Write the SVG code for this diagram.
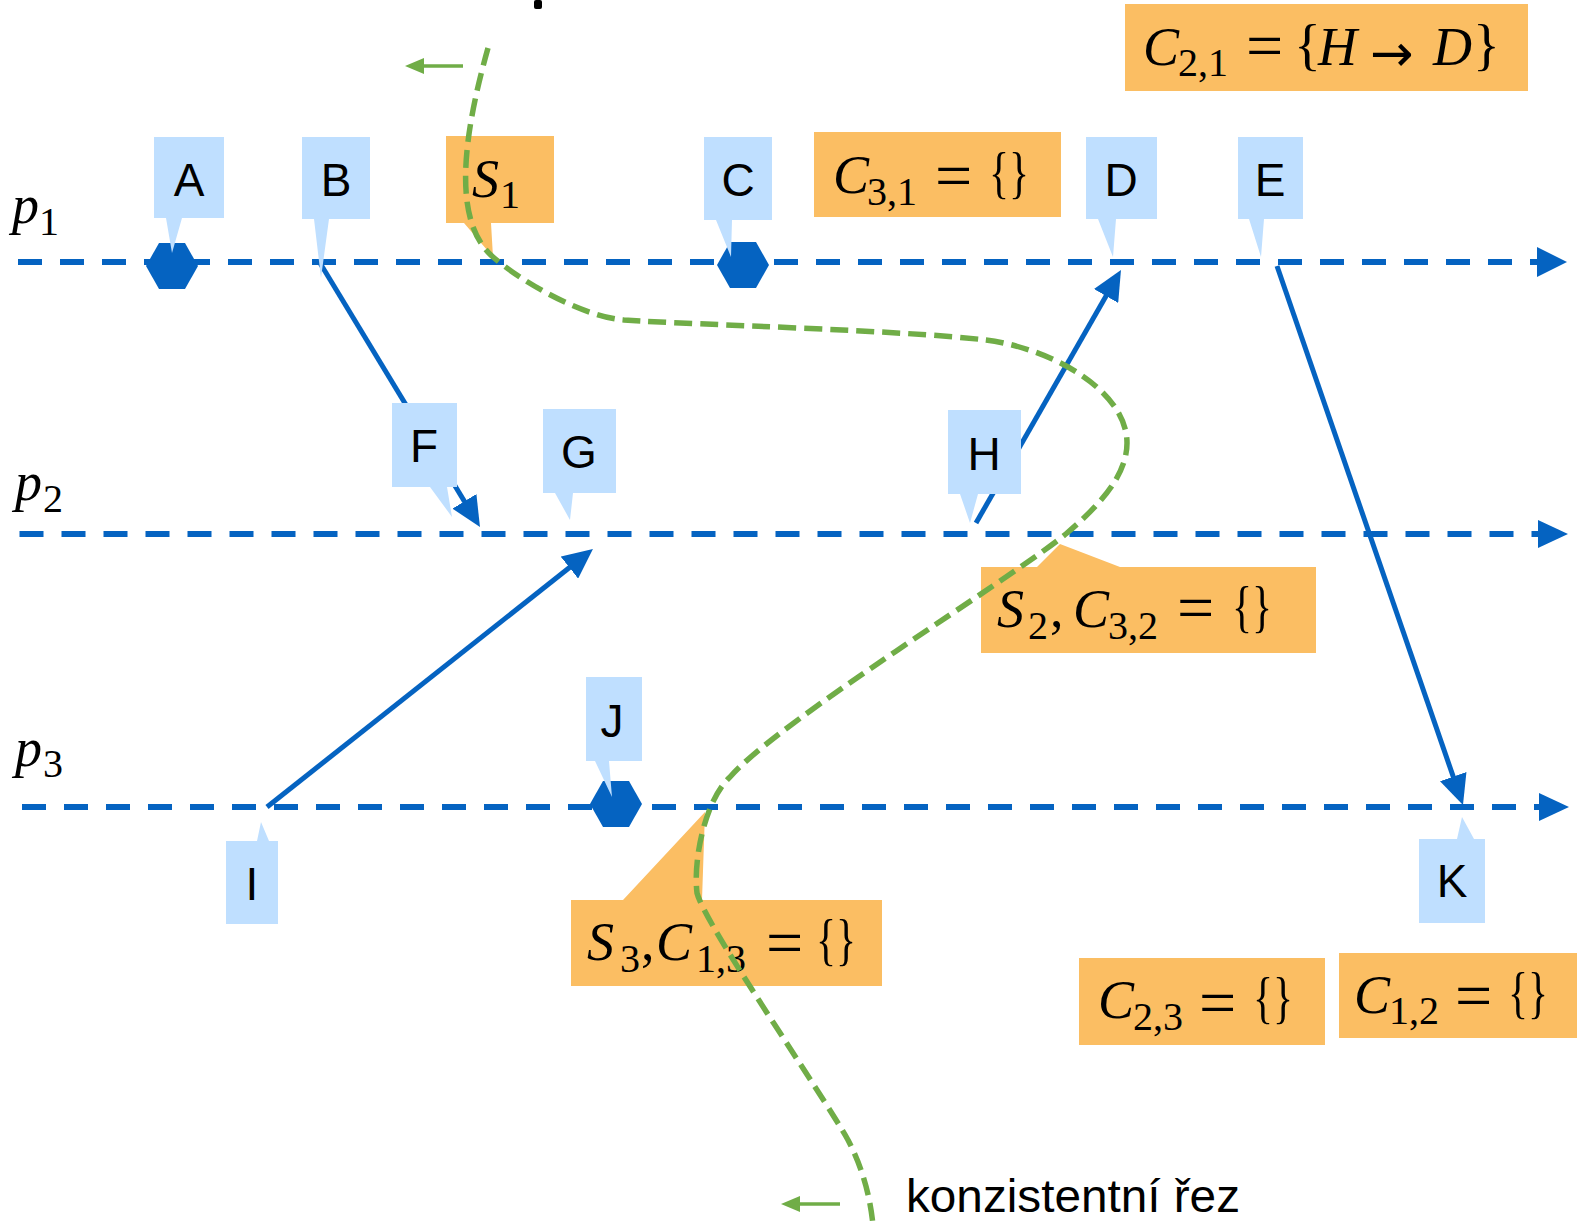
<svg xmlns="http://www.w3.org/2000/svg" width="1577" height="1225" viewBox="0 0 1577 1225">
<style>
.tl{stroke:#0563C1;stroke-width:6;stroke-dasharray:24 18;fill:none}
.ah{fill:#0563C1}
.msg{stroke:#0563C1;stroke-width:5;fill:none;marker-end:url(#arr)}
.cb{fill:#BFDFFF}
.co{fill:#FBBE63}
.cut{stroke:#70AD47;stroke-width:5.5;stroke-dasharray:18 8;fill:none}
.ga{stroke:#70AD47;stroke-width:3.5;fill:none}
.gh{fill:#70AD47}
.lt{font-family:"Liberation Sans",Arial,sans-serif;font-size:46px;fill:#000;text-anchor:middle}
.m{font-family:"Liberation Serif","Times New Roman",serif;font-size:54px;fill:#000}
.i{font-style:italic}
.s{font-size:40px}
.eq{font-size:66px}
.br{font-size:56px}
.ar{font-family:"DejaVu Sans",sans-serif;font-size:52px}
</style>
<defs>
<marker id="arr" markerUnits="userSpaceOnUse" markerWidth="30" markerHeight="28" refX="15" refY="14" orient="auto">
<path d="M0,0 L30,14 L0,28 Z" fill="#0563C1"/>
</marker>
<polygon id="hex" points="-26,0 -13,-23 13,-23 26,0 13,23 -13,23" fill="#0563C1"/>
</defs>

<rect x="534" y="0" width="8" height="9" rx="2" fill="#000"/>

<g id="timelines">
<line class="tl" x1="18" y1="262" x2="1540" y2="262"/>
<polygon class="ah" points="1537,247 1567,262 1537,277"/>
<line class="tl" x1="19.5" y1="534" x2="1541" y2="534"/>
<polygon class="ah" points="1538,520 1568,534 1538,548"/>
<line class="tl" x1="22" y1="807" x2="1541" y2="807"/>
<polygon class="ah" points="1539,793 1569,807 1539,821"/>
</g>

<g id="connectors">
<line class="msg" x1="320" y1="263" x2="472.2" y2="514.2"/>
<line class="msg" x1="267" y1="807" x2="581.2" y2="558.3"/>
<line class="msg" x1="976" y1="523" x2="1113.5" y2="283"/>
<line class="msg" x1="1277" y1="266" x2="1458.1" y2="790.8"/>
</g>

<g id="events">
<use href="#hex" x="172" y="266"/>
<use href="#hex" x="743" y="265"/>
<use href="#hex" x="616" y="804"/>
</g>

<g id="nodeA"><path class="cb" d="M154,137 H224 V218 H182 L172,253 L166,218 H154 Z"/><text class="lt" x="189" y="196">A</text></g>
<g id="nodeB"><path class="cb" d="M302,137 H370 V219 H329 L321,278 L314,219 H302 Z"/><text class="lt" x="336" y="196">B</text></g>
<g id="nodeC"><path class="cb" d="M704,137 H772 V220 H732 L731,257 L716,220 H704 Z"/><text class="lt" x="738" y="196">C</text></g>
<g id="nodeD"><path class="cb" d="M1086,137 H1157 V219 H1116 L1113,257 L1098,219 H1086 Z"/><text class="lt" x="1121" y="196">D</text></g>
<g id="nodeE"><path class="cb" d="M1238,137 H1303 V219 H1264 L1261,257 L1249,219 H1238 Z"/><text class="lt" x="1270" y="196">E</text></g>
<g id="nodeF"><path class="cb" d="M392,403 H457 V487 H447 L452,517 L430,487 H392 Z"/><text class="lt" x="424" y="462">F</text></g>
<g id="nodeG"><path class="cb" d="M543,409 H616 V493 H573 L570,520 L555,493 H543 Z"/><text class="lt" x="579" y="468">G</text></g>
<g id="nodeH"><path class="cb" d="M948,410 H1021 V494 H978 L970,523 L960,494 H948 Z"/><text class="lt" x="984" y="470">H</text></g>
<g id="nodeI"><path class="cb" d="M226,841 H257 L261,822 L269,841 H278 V924 H226 Z"/><text class="lt" x="252" y="900">I</text></g>
<g id="nodeJ"><path class="cb" d="M586,677 H642 V761 H609 L612,797 L595,761 H586 Z"/><text class="lt" x="612" y="737">J</text></g>
<g id="nodeK"><path class="cb" d="M1419,839 H1457 L1462,817 L1474,839 H1485 V923 H1419 Z"/><text class="lt" x="1452" y="897">K</text></g>

<g id="nodeS1"><path class="co" d="M446,136 H554 V223 H491 L493,257 L464,223 H446 Z"/>
<text class="m"><tspan class="i" x="472" y="197">S</tspan><tspan class="s" x="500" y="208">1</tspan></text></g>

<g id="nodeC31"><rect class="co" x="814" y="132" width="247" height="85"/>
<text class="m"><tspan class="i" x="833" y="193">C</tspan><tspan class="s" x="867" y="205">3,1</tspan><tspan class="eq" x="935" y="198">=</tspan><tspan class="br" x="989" y="192" textLength="40" lengthAdjust="spacingAndGlyphs">{}</tspan></text></g>

<g id="nodeC21"><rect class="co" x="1125" y="4" width="403" height="87"/>
<text class="m"><tspan class="i" x="1143" y="65">C</tspan><tspan class="s" x="1178" y="76">2,1</tspan><tspan class="eq" x="1246" y="68">=</tspan><tspan class="br" x="1294" y="64">{</tspan><tspan class="i" x="1318" y="65">H</tspan><tspan class="ar" x="1370" y="71">→</tspan><tspan class="i" x="1433" y="65">D</tspan><tspan class="br" x="1473" y="64">}</tspan></text></g>

<g id="nodeS2"><path class="co" d="M981,567 H1037 L1060,544 L1120,567 H1316 V653 H981 Z"/>
<text class="m"><tspan class="i" x="997" y="627">S</tspan><tspan class="s" x="1028" y="639">2</tspan><tspan x="1050" y="627">,</tspan><tspan class="i" x="1073" y="627">C</tspan><tspan class="s" x="1108" y="639">3,2</tspan><tspan class="eq" x="1177" y="630">=</tspan><tspan class="br" x="1232" y="626" textLength="40" lengthAdjust="spacingAndGlyphs">{}</tspan></text></g>

<g id="nodeS3"><path class="co" d="M571,900 H623 L705,812 L702,900 H882 V986 H571 Z"/>
<text class="m"><tspan class="i" x="587" y="960">S</tspan><tspan class="s" x="620" y="972">3</tspan><tspan x="641" y="960">,</tspan><tspan class="i" x="656" y="960">C</tspan><tspan class="s" x="696" y="972">1,3</tspan><tspan class="eq" x="766" y="965">=</tspan><tspan class="br" x="816" y="959" textLength="40" lengthAdjust="spacingAndGlyphs">{}</tspan></text></g>

<g id="nodeC23"><rect class="co" x="1079" y="958" width="246" height="87"/>
<text class="m"><tspan class="i" x="1098" y="1018">C</tspan><tspan class="s" x="1133" y="1030">2,3</tspan><tspan class="eq" x="1199" y="1025">=</tspan><tspan class="br" x="1253" y="1017" textLength="40" lengthAdjust="spacingAndGlyphs">{}</tspan></text></g>

<g id="nodeC12"><rect class="co" x="1339" y="953" width="238" height="85"/>
<text class="m"><tspan class="i" x="1354" y="1013">C</tspan><tspan class="s" x="1389" y="1024">1,2</tspan><tspan class="eq" x="1455" y="1018">=</tspan><tspan class="br" x="1508" y="1012" textLength="40" lengthAdjust="spacingAndGlyphs">{}</tspan></text></g>

<g id="cut">
<path class="cut" d="M488,48 C465,130 450,220 493,257 C523,283 584,317 624,320 C700,325 900,330 986,340 C1050,348 1127,390 1127,443 C1127,475 1100,505 1067,533 C1010,580 780,720 730,777 C705,800 693,860 697,893 C705,925 820,1090 848,1140 C862,1167 870,1195 873,1225"/>
<line class="ga" x1="463" y1="66" x2="420" y2="66"/>
<polygon class="gh" points="405,66 424,58 424,74"/>
<line class="ga" x1="840" y1="1204" x2="796" y2="1204"/>
<polygon class="gh" points="781,1204 800,1196 800,1212"/>
<text class="lt" style="text-anchor:start" x="906" y="1212" textLength="334" lengthAdjust="spacingAndGlyphs">konzistentní řez</text>
</g>

<g id="labels">
<text class="m"><tspan class="i" x="12" y="223">p</tspan><tspan class="s" x="39" y="235">1</tspan></text>
<text class="m"><tspan class="i" x="15" y="500">p</tspan><tspan class="s" x="43" y="512">2</tspan></text>
<text class="m"><tspan class="i" x="15" y="766">p</tspan><tspan class="s" x="43" y="777">3</tspan></text>
</g>
</svg>
